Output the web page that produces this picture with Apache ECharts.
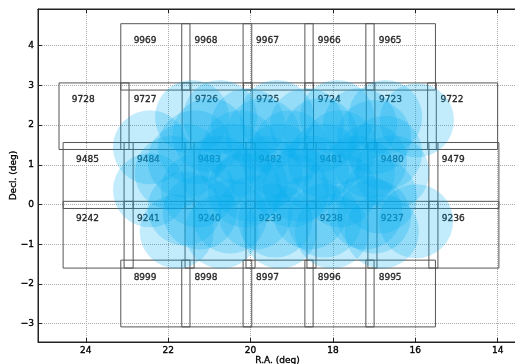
<!DOCTYPE html>
<html>
<head>
<meta charset="utf-8">
<script src="https://cdn.jsdelivr.net/npm/echarts@6/dist/echarts.min.js"></script>
<style>
  html, body { margin: 0; padding: 0; background: #fff; }
  #chart { width: 515px; height: 364px; }
</style>
</head>
<body>
<div id="chart"></div>
<script>
// tract boxes, in degrees
const tractIds = [
  9969, 9968, 9967, 9966, 9965,
  9728, 9727, 9726, 9725, 9724, 9723, 9722,
  9485, 9484, 9483, 9482, 9481, 9480, 9479,
  9242, 9241, 9240, 9239, 9238, 9237, 9236,
  8999, 8998, 8997, 8996, 8995
];
const tractRaLeft = [
  23.15, 21.67, 20.18, 18.68, 17.20,
  24.65, 23.15, 21.66, 20.17, 18.68, 17.19, 15.70,
  24.55, 23.07, 21.59, 20.11, 18.63, 17.15, 15.67,
  24.55, 23.07, 21.59, 20.11, 18.63, 17.15, 15.67,
  23.15, 21.67, 20.18, 18.68, 17.20
];
const tractRaRight = [
  21.47, 19.97, 18.48, 17.00, 15.51,
  22.95, 21.45, 19.96, 18.47, 16.98, 15.49, 14.00,
  22.85, 21.37, 19.89, 18.41, 16.93, 15.45, 13.97,
  22.85, 21.37, 19.89, 18.41, 16.93, 15.45, 13.97,
  21.47, 19.97, 18.48, 17.00, 15.51
];
const tractDecTop = [
  4.55, 4.55, 4.55, 4.55, 4.55,
  3.06, 3.06, 3.06, 3.06, 3.06, 3.06, 3.06,
  1.56, 1.56, 1.56, 1.56, 1.56, 1.56, 1.56,
  0.08, 0.08, 0.08, 0.08, 0.08, 0.08, 0.08,
  -1.40, -1.40, -1.40, -1.40, -1.40
];
const tractDecBottom = [
  2.88, 2.88, 2.88, 2.88, 2.88,
  1.385, 1.385, 1.385, 1.385, 1.385, 1.385, 1.385,
  -0.10, -0.10, -0.10, -0.10, -0.10, -0.10, -0.10,
  -1.60, -1.60, -1.60, -1.60, -1.60, -1.60, -1.60,
  -3.08, -3.08, -3.08, -3.08, -3.08
];

// pointing centres, in degrees
const pointingRa = [
  21.42, 20.74, 19.36, 17.90, 16.73, 15.96,
  20.06, 18.63, 17.34,
  21.00, 19.70, 18.30, 17.00,
  22.44, 21.35, 20.26, 19.04, 17.83, 16.73,
  21.60, 20.40, 19.30, 18.20, 17.10,
  21.91, 20.79, 19.65, 18.51, 17.39, 16.56,
  20.00, 18.80,
  22.44, 21.28, 20.14, 19.00, 17.83, 16.86,
  21.60, 20.50, 19.40, 18.20, 17.00,
  21.23, 19.89, 18.56, 17.22,
  21.79, 20.70, 19.29, 18.02, 16.81, 15.98
];
const pointingDec = [
  2.20, 2.20, 2.20, 2.20, 2.20, 2.12,
  2.00, 2.00, 2.00,
  1.75, 1.75, 1.75, 1.70,
  1.44, 1.44, 1.44, 1.44, 1.44, 1.30,
  1.10, 1.10, 1.10, 1.10, 1.10,
  0.80, 0.80, 0.80, 0.80, 0.80, 0.81,
  0.50, 0.50,
  0.36, 0.36, 0.36, 0.36, 0.36, 0.20,
  -0.10, -0.30, -0.40, -0.40, -0.30,
  -0.20, -0.20, -0.20, -0.20,
  -0.68, -0.68, -0.68, -0.68, -0.68, -0.42
];
const pointingRadius = 0.9;

const boxData = tractIds.map((id, i) => [tractRaLeft[i], tractRaRight[i], tractDecTop[i], tractDecBottom[i], id]);
const labelData = tractIds.map((id, i) => [tractRaLeft[i] - 0.59, tractDecTop[i] - 0.43, id]);
const pointingData = pointingRa.map((ra, i) => [ra, pointingDec[i]]);

const minus = v => String(v).replace('-', '\u2212');
const font = 'DejaVu Sans';
const textStyle = { fontFamily: font, fontSize: 9, color: '#000', textBorderColor: '#000', textBorderWidth: 0.35 };

const myChart = echarts.init(document.getElementById('chart'));
myChart.setOption({
  animation: false,
  grid: {
    left: 38, top: 9, right: -2, bottom: 22,
    outerBoundsMode: 'none', containLabel: false,
    show: true, borderColor: '#222', borderWidth: 1
  },
  xAxis: [{
    type: 'value',
    inverse: true,
    min: 13.53, max: 25.16,
    minInterval: 2, maxInterval: 2,
    name: 'R.A. (deg)', nameLocation: 'middle', nameGap: 14, nameMoveOverlap: false,
    nameTextStyle: textStyle,
    axisLine: { onZero: false, lineStyle: { color: '#222' } },
    axisTick: { inside: true, length: 4, lineStyle: { color: '#222' } },
    axisLabel: Object.assign({ showMinLabel: false, showMaxLabel: false, margin: 4, formatter: minus }, textStyle),
    splitLine: { lineStyle: { type: 'dotted', color: '#aaa' } }
  }, {
    type: 'value',
    position: 'top',
    inverse: true,
    min: 13.53, max: 25.16,
    minInterval: 2, maxInterval: 2,
    axisLine: { onZero: false, lineStyle: { color: '#222', width: 1.2 } },
    axisTick: { inside: true, length: 4, lineStyle: { color: '#222' } },
    axisLabel: { show: false },
    splitLine: { show: false }
  }],
  yAxis: {
    type: 'value',
    min: -3.46, max: 4.92,
    minInterval: 1, maxInterval: 1,
    name: 'Decl. (deg)', nameLocation: 'middle', nameGap: 20, nameMoveOverlap: false,
    nameTextStyle: textStyle,
    axisLine: { onZero: false, lineStyle: { color: '#222' } },
    axisTick: { inside: true, length: 4, lineStyle: { color: '#222' } },
    axisLabel: Object.assign({ showMinLabel: false, showMaxLabel: false, margin: 4, formatter: minus }, textStyle),
    splitLine: { lineStyle: { type: 'dotted', color: '#aaa' } }
  },
  series: [
    {
      type: 'custom',
      data: boxData,
      z: 2,
      renderItem(params, api) {
        const a = api.coord([api.value(0), api.value(2)]);
        const b = api.coord([api.value(1), api.value(3)]);
        return {
          type: 'rect',
          shape: { x: Math.min(a[0], b[0]), y: Math.min(a[1], b[1]), width: Math.abs(b[0] - a[0]), height: Math.abs(b[1] - a[1]) },
          style: { fill: 'none', stroke: '#555', lineWidth: 1 }
        };
      }
    },
    {
      type: 'scatter',
      data: labelData,
      z: 3,
      symbolSize: 0,
      label: Object.assign({
        show: true, position: 'inside',
        formatter: p => p.value[2]
      }, textStyle)
    },
    {
      type: 'custom',
      data: pointingData,
      z: 4,
      renderItem(params, api) {
        const c = api.coord([api.value(0), api.value(1)]);
        const r = api.size([pointingRadius, 0])[0];
        return {
          type: 'circle',
          shape: { cx: c[0], cy: c[1], r: r },
          style: { fill: 'rgba(0,170,238,0.24)' }
        };
      }
    }
  ]
});
</script>
</body>
</html>
